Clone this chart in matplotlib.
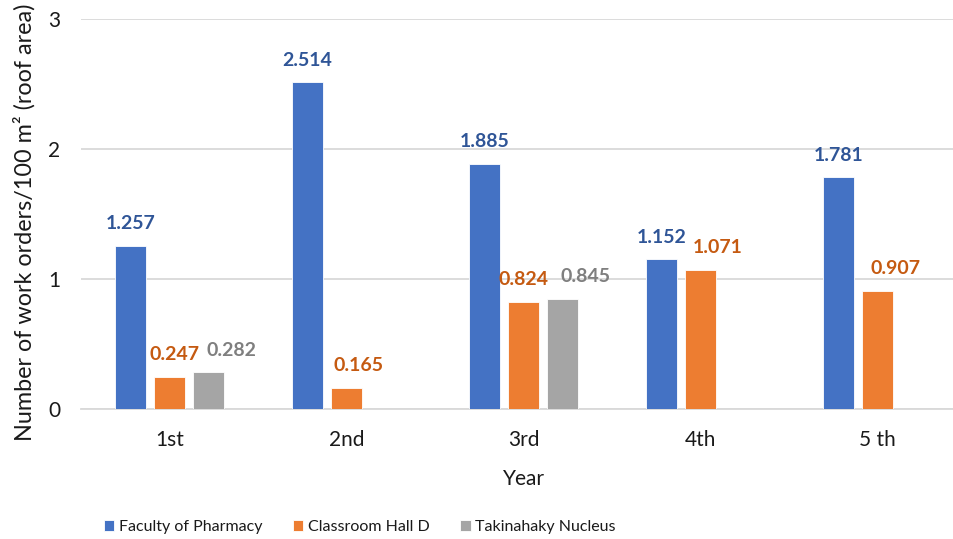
"""grouped bar chart of work orders per 100 m2 of roof area by year"""

import numpy as np
import matplotlib
matplotlib.use('Agg')
import matplotlib.pyplot as plt

# data
years = ['1st', '2nd', '3rd', '4th', '5 th']
series_names = ['Faculty of Pharmacy', 'Classroom Hall D', 'Takinahaky Nucleus']
pharmacy = [1.257, 2.514, 1.885, 1.152, 1.781]
hall_d = [0.247, 0.165, 0.824, 1.071, 0.907]
takinahaky = [0.282, np.nan, 0.845, np.nan, np.nan]

bar_colors = ['#4472C4', '#ED7D31', '#A5A5A5']
label_colors = ['#2F5597', '#C55A11', '#7F7F7F']
# horizontal nudges (pixels) of the value labels, as placed in the original
label_shift = [[0, 0, 0, 0, 0],
               [5, 12, 0, 17, 18],
               [23, 0, 23, 0, 0]]

plt.rcParams['font.family'] = ['Lato', 'DejaVu Sans']

fig = plt.figure(figsize=(9.54, 5.39), dpi=100)
ax = fig.add_axes([81 / 954, 130 / 539, 885 / 954, 390 / 539])

x = np.arange(len(years))
width = 0.175
step = 0.22
all_series = [pharmacy, hall_d, takinahaky]
handles = []
for i, vals in enumerate(all_series):
    pos = x + (i - 1) * step
    bars = ax.bar(pos, vals, width, color=bar_colors[i], edgecolor='#ffffff',
                  linewidth=0.6, label=series_names[i], zorder=3)
    handles.append(bars)
    for j, v in enumerate(vals):
        if np.isnan(v):
            continue
        ax.annotate('%.3f' % v, xy=(pos[j], v),
                    xytext=(label_shift[i][j] * 0.72, 12), textcoords='offset points',
                    ha='center', va='baseline', fontsize=14, fontweight='bold',
                    color=label_colors[i])

ax.set_xlim(-0.5, len(years) - 0.5)
ax.set_ylim(0, 3)
ax.set_yticks([0, 1, 2, 3])
ax.set_xticks(x)
ax.set_xticklabels(years)
ax.tick_params(axis='both', length=0, labelsize=15, colors='#1a1a1a')
ax.tick_params(axis='y', pad=15)
ax.tick_params(axis='x', pad=15)
ax.grid(axis='y', color='#D9D9D9', linewidth=1.3, zorder=0)
for s in ['top', 'right', 'left']:
    ax.spines[s].set_visible(False)
ax.spines['bottom'].set_color('#D9D9D9')
ax.spines['bottom'].set_linewidth(1.3)

ax.set_xlabel('Year', fontsize=15, color='#1a1a1a', labelpad=14)
fig.text(24.5 / 954, 1 - 222 / 539, 'Number of work orders/100 m² (roof area)',
         rotation=90, ha='center', va='center', fontsize=16.8, color='#1a1a1a')

fig.legend(handles=handles, loc='center', bbox_to_anchor=(360 / 954, 1 - 527 / 539),
           ncol=3, frameon=False, fontsize=11.5, handlelength=0.65, handleheight=0.65,
           handletextpad=0.3, columnspacing=1.9, labelcolor='#1a1a1a')

plt.savefig('out.png', dpi=100)
